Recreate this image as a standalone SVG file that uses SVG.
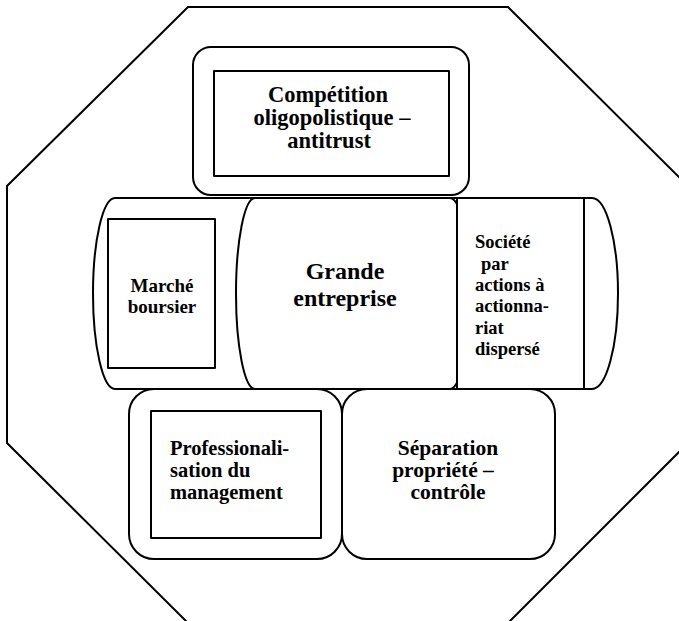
<svg xmlns="http://www.w3.org/2000/svg" width="679" height="621" viewBox="0 0 679 621">
<style>
.ln{fill:#fff;stroke:#000;stroke-width:2;stroke-linejoin:round}
.oct{fill:none;stroke:#000;stroke-width:2}
.t{font-family:"Liberation Serif","Times New Roman",serif;font-weight:bold;fill:#000}
.c{text-anchor:middle}
</style>
<rect width="679" height="621" fill="#fff"/>
<polygon id="frame" class="oct" points="188,7 508,7 688,186 688,443 508,623 188,623 7,443 7,186"/>
<g id="competition">
<rect class="ln" x="193" y="47" width="276" height="148" rx="18"/>
<rect class="ln" x="214" y="71" width="235" height="105"/>
<text class="t c" font-size="22.5" x="330"><tspan x="328" y="102">Compétition</tspan><tspan x="332" y="125">oligopolistique –</tspan><tspan x="329" y="148">antitrust</tspan></text>
</g>
<g id="band">
<path class="ln" d="M115 198 L592 198 A26 95.5 0 0 1 592 389 L115 389 A22 95.5 0 0 1 115 198 Z"/>
</g>
<g id="marche">
<rect class="ln" x="108" y="219" width="107" height="149"/>
<text class="t c" font-size="19" x="162"><tspan x="162" y="292">Marché</tspan><tspan x="162" y="313">boursier</tspan></text>
</g>
<g id="grande">
<path class="ln" d="M255 198 L450 198 A19 95.5 0 0 1 450 389 L255 389 A19 95.5 0 0 1 255 198 Z"/>
<text class="t c" font-size="24" x="345"><tspan x="345" y="279">Grande</tspan><tspan x="345" y="306">entreprise</tspan></text>
</g>
<g id="societe">
<rect class="ln" x="457" y="198" width="127" height="191"/>
<text class="t" font-size="18.5"><tspan x="475" y="248">Société</tspan><tspan x="481" y="270">par</tspan><tspan x="475" y="291">actions à</tspan><tspan x="475" y="312">actionna-</tspan><tspan x="475" y="334">riat</tspan><tspan x="475" y="355">dispersé</tspan></text>
</g>
<g id="professionalisation">
<rect class="ln" x="129" y="389" width="213" height="170" rx="25"/>
<rect class="ln" x="151" y="411" width="170" height="127"/>
<text class="t" font-size="20.5"><tspan x="170" y="455">Professionali-</tspan><tspan x="170" y="477">sation du</tspan><tspan x="170" y="499">management</tspan></text>
</g>
<g id="separation">
<rect class="ln" x="342" y="389" width="213" height="170" rx="25"/>
<text class="t c" font-size="21.5"><tspan x="448" y="455">Séparation</tspan><tspan x="443" y="477">propriété –</tspan><tspan x="448" y="499">contrôle</tspan></text>
</g>
<g id="connectors"></g>
</svg>
